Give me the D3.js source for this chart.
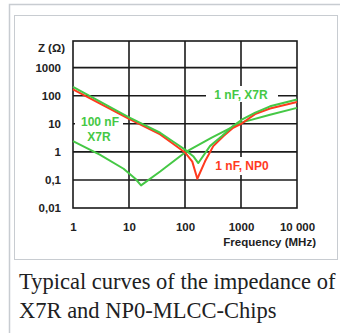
<!DOCTYPE html>
<html>
<head>
<meta charset="utf-8">
<script src="https://cdn.jsdelivr.net/npm/d3@7"></script>
<style>
  html, body { margin: 0; padding: 0; background: #fff; }
  svg { display: block; }
  .tick text { font-family: "Liberation Sans", Arial, sans-serif; font-weight: bold; font-size: 11.5px; fill: #222; }
</style>
</head>
<body>
<div id="chart"></div>
<script>
// impedance curves: [frequency MHz, |Z| ohm]
const freqTicks = [1, 10, 100, 1000, 10000];
const freqLabels = ['1', '10', '100', '1000', '10 000'];
const zTicks = [0.01, 0.1, 1, 10, 100, 1000];
const zLabels = ['0,01', '0,1', '1', '10', '100', '1000'];

const npo1n = [[1, 170], [10, 15], [36, 4.2], [62, 1.9], [100, 0.95], [135, 0.45], [166, 0.11],
  [228, 0.46], [320, 1.6], [483, 3.6], [724, 7.2], [1030, 10.2], [1780, 22], [3300, 35], [10000, 60]];
const x7r1n = [[1, 205], [10, 17], [36, 4.8], [62, 2.3], [100, 1.2], [140, 0.7], [173, 0.4],
  [279, 1.6], [452, 3.6], [700, 8], [1030, 14], [1800, 25], [3300, 42], [10000, 73]];
const x7r100n = [[1, 2.4], [3, 0.8], [8, 0.25], [13, 0.11], [16.4, 0.064], [36, 0.2],
  [100, 0.95], [300, 3.2], [1000, 11], [3300, 21], [10000, 37]];

const width = 340, height = 333;
const green = '#45c845', red = '#ff3a1e';

const svg = d3.select('#chart').append('svg')
  .attr('width', width)
  .attr('height', height);

// thumbnail frame
svg.append('path')
  .attr('d', 'M9.5,' + height + 'V4.5H' + width)
  .attr('fill', 'none')
  .attr('stroke', '#c8ccd1')
  .attr('stroke-width', 1.5);
svg.append('rect')
  .attr('x', 14.5).attr('y', 15.5)
  .attr('width', 323).attr('height', 244)
  .attr('fill', '#fff')
  .attr('stroke', '#c8ccd1');

const x = d3.scaleLog().domain([1, 10000]).range([73, 297]);
const y = d3.scaleLog().domain([0.01, Math.pow(10, 3.95)]).range([208, 41]);

// grid
const grid = svg.append('g').attr('stroke', '#1a1a1a').attr('stroke-width', 1.6);
grid.selectAll('.vg').data(freqTicks.slice(1, -1)).enter().append('line')
  .attr('x1', d => x(d)).attr('x2', d => x(d))
  .attr('y1', y.range()[1]).attr('y2', y.range()[0]);
grid.selectAll('.hg').data(zTicks.slice(1)).enter().append('line')
  .attr('x1', x.range()[0]).attr('x2', x.range()[1])
  .attr('y1', d => y(d)).attr('y2', d => y(d));
grid.append('rect')
  .attr('x', x.range()[0]).attr('y', y.range()[1])
  .attr('width', x.range()[1] - x.range()[0])
  .attr('height', y.range()[0] - y.range()[1])
  .attr('fill', 'none');

// axes (labels only)
svg.append('g')
  .attr('transform', 'translate(0,' + (y.range()[0] + 12) + ')')
  .call(d3.axisBottom(x).tickValues(freqTicks).tickSize(0).tickFormat((d, i) => freqLabels[i]))
  .call(g => g.select('.domain').remove());
svg.append('g')
  .attr('transform', 'translate(' + (x.range()[0] - 9) + ',0)')
  .call(d3.axisLeft(y).tickValues(zTicks).tickSize(0).tickFormat((d, i) => zLabels[i]))
  .call(g => g.select('.domain').remove());

const lab = (txt, px, py, anchor, col, size) => svg.append('text')
  .attr('x', px).attr('y', py)
  .attr('text-anchor', anchor)
  .attr('dy', '0.35em')
  .attr('font-family', '"Liberation Sans", Arial, sans-serif')
  .attr('font-weight', 'bold')
  .attr('font-size', size || 12)
  .attr('fill', col)
  .text(txt);

lab('Z  (\u03A9)', 65, 48, 'end', '#222', 11.5);
lab('Frequency (MHz)', 316, 242, 'end', '#222', 11.5);

// white patches behind the curve labels
const patch = (x0, y0, w, h) => svg.append('rect')
  .attr('x', x0).attr('y', y0).attr('width', w).attr('height', h).attr('fill', '#fff');
patch(206, 86, 72, 16);
patch(75, 114, 48, 31);
patch(212, 157, 60, 18);

// curves
const line = d3.line().x(d => x(d[0])).y(d => y(d[1]));
[[x7r100n, green], [npo1n, red], [x7r1n, green]].forEach(([data, col]) => {
  svg.append('path')
    .datum(data)
    .attr('fill', 'none')
    .attr('stroke', col)
    .attr('stroke-width', 2)
    .attr('stroke-linejoin', 'round')
    .attr('d', line);
});

lab('1 nF, X7R', 241, 95, 'middle', green);
lab('100 nF', 100, 122, 'middle', green);
lab('X7R', 99, 137, 'middle', green);
lab('1 nF, NP0', 242, 166, 'middle', red);

// caption
svg.append('text')
  .attr('font-family', '"Liberation Serif", "Times New Roman", serif')
  .attr('font-size', 22.5)
  .attr('fill', '#202122')
  .selectAll('tspan')
  .data(['Typical curves of the impedance of', 'X7R and NP0-MLCC-Chips'])
  .enter().append('tspan')
  .attr('x', 19)
  .attr('y', (d, i) => 289 + i * 29)
  .text(d => d);
</script>
</body>
</html>
